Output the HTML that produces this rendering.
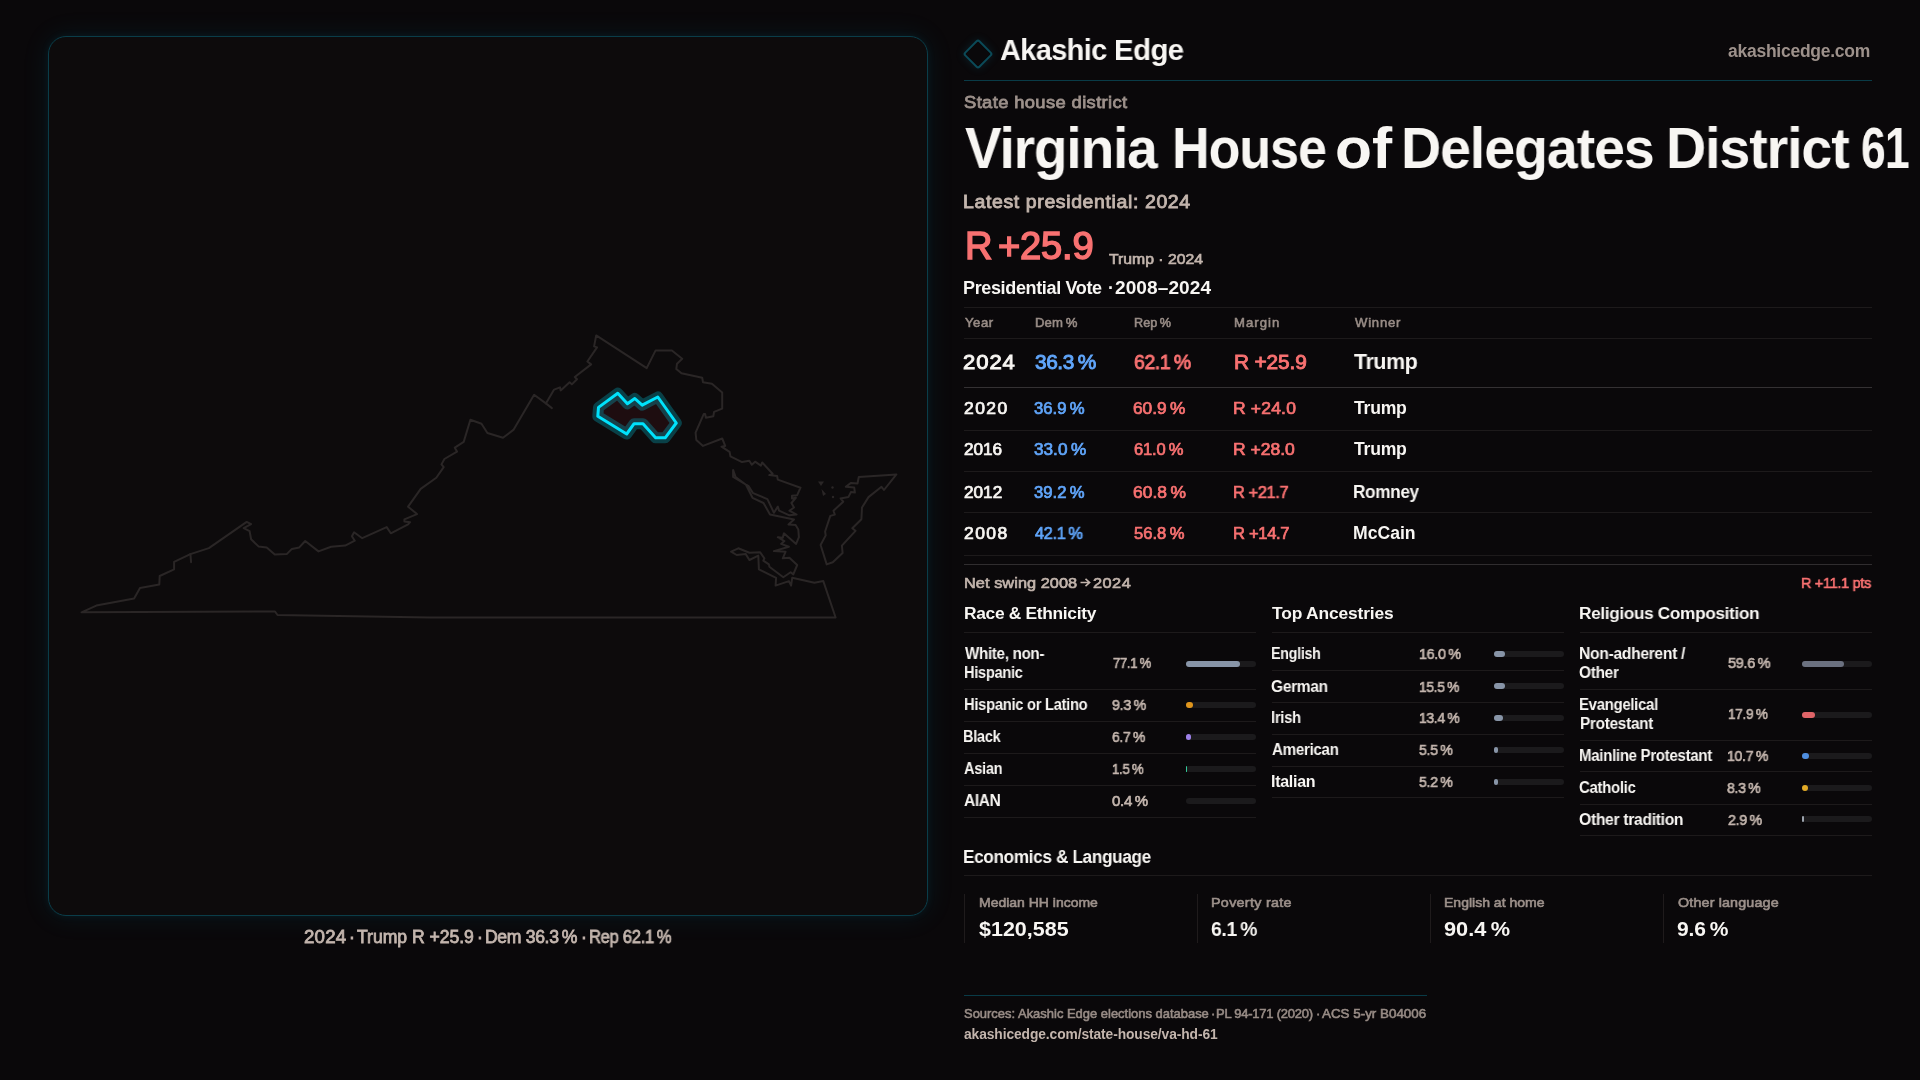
<!DOCTYPE html>
<html><head><meta charset="utf-8"><title>Virginia House of Delegates District 61</title>
<style>
*{margin:0;padding:0;box-sizing:border-box}
html,body{width:1920px;height:1080px;overflow:hidden;background:#0a080a}
body{position:relative;font-family:"Liberation Sans",sans-serif}
.panel{position:absolute;left:48px;top:36px;width:880px;height:880px;border:1px solid #0a3d49;border-radius:18px;background:#0d0b0c;box-shadow:0 0 28px rgba(0,170,200,0.10),0 0 8px rgba(0,170,200,0.08)}
.map{position:absolute;left:0;top:0}
.t{position:absolute;white-space:nowrap;line-height:1;transform-origin:0 0;will-change:transform}
.bm{display:inline-block;width:0;height:0}
.hl{position:absolute}
.bar{position:absolute;background:#1b1a1c;border-radius:3px}
.bar i{display:block;height:100%;border-radius:3px}
.logo{position:absolute;left:966.5px;top:43.3px;width:22px;height:22px;border:2px solid #0b4a58;border-radius:3px;transform:rotate(45deg);box-shadow:0 0 10px rgba(20,140,170,0.18)}
</style></head><body>
<div class="panel"></div>
<svg class="map" width="1920" height="1080" viewBox="0 0 1920 1080">
<g fill="none" stroke="#2a2626" stroke-width="2" stroke-linejoin="round" stroke-linecap="round">
<path d="M81.5 612.3 L96.3 605.6 L134.1 598.5 L140.0 587.9 L159.3 584.4 L159.7 576.0 L174.1 569.3 L174.1 561.9 L190.4 554.1 L208.9 548.1 L246.7 521.9 L251.1 524.1 L243.7 528.1 L249.6 531.1 L251.1 539.3 L258.5 546.4 L266.7 547.4 L274.8 554.5 L286.7 554.1 L291.9 548.9 L299.3 547.4 L305.2 541.0 L318.5 551.4 L331.1 546.7 L345.2 545.6 L354.8 540.7 L351.9 536.3 L354.1 532.3 L362.2 538.2 L386.7 527.1 L390.8 533.3 L408.1 524.4 L410.1 522.2 L404.4 521.5 L404.4 519.3 L417.0 514.1 L408.1 506.7 L420.7 488.9 L436.3 477.8 L443.7 467.1 L441.5 464.4 L444.4 459.0 L457.0 451.6 L454.8 447.7 L463.7 441.9 L470.4 419.7 L481.5 423.7 L487.4 433.0 L503.0 437.8 L513.7 429.6 L534.1 394.8 L545.9 403.4 L554.1 389.6 L560.0 387.4 L560.7 390.4 L569.6 382.2 L571.9 384.4 L577.0 379.3 L574.8 377.0 L591.1 364.4 L587.4 361.5 L597.0 347.4 L594.1 346.4 L596.2 335.4 L646.7 368.1 L655.6 350.4 L671.9 350.4 L682.2 358.8 L677.0 363.7 L676.3 368.9 L681.5 373.3 L702.2 377.8 L703.0 382.2 L711.9 383.7 L722.2 392.6 L722.2 408.6 L714.1 411.9 L713.3 416.3 L705.9 417.8 L705.2 414.1 L703.7 414.1 L695.6 432.6 L696.3 440.0 L703.0 445.9 L722.2 438.5 L725.2 445.9 L721.5 446.7 L729.6 451.9 L730.4 456.3 L742.1 462.1 L749.3 460.8 L751.8 464.7 L755.1 461.7 L760.9 465.6 L762.2 462.5 L772.6 473.8 L769.3 475.1 L777.1 476.0 L777.8 479.6 L800.5 487.7 L797.2 495.2 L792.0 495.8 L792.0 498.4 L795.9 497.8 L791.4 503.0 L794.0 507.5 L789.4 510.7 L796.6 514.6 L789.4 515.3 L779.1 510.7 L777.8 506.6 L773.9 512.7 L767.4 499.1 L753.1 493.2 L748.6 486.1 L733.1 477.0 L733.1 469.9 L735.6 477.0 L746.0 484.8 L752.5 497.8 L763.5 503.0 L770.0 514.4 L794.0 519.5 L788.5 524.5 L795.6 525.0 L798.3 529.4 L798.9 537.2 L796.1 543.9 L783.9 533.3 L782.8 537.8 L777.8 537.2 L784.4 541.1 L781.1 543.9 L788.9 546.7 L773.9 551.1 L785.6 551.7 L782.8 558.3 L789.4 557.8 L797.2 565.0 L793.3 574.4 L790.6 572.2 L783.3 577.2 L769.4 566.7 L768.9 564.4 L763.3 560.6 L764.4 558.3 L760.0 552.2 L749.4 552.8 L738.3 548.3 L731.1 551.7 L736.7 555.0 L745.6 553.9 L749.4 560.0 L758.3 555.6 L758.9 569.4 L776.1 577.8 L775.6 585.6 L788.9 581.1 L791.1 585.6 L792.2 577.8 L814.4 582.8 L823.3 581.1 L835.6 617.5 L430.0 617.5 L277.5 615.0 L275.0 611.5 Z"/><path d="M896.4 474.4 L884.0 490.0 L881.5 486.8 L868.5 497.1 L862.0 507.5 L861.4 519.2 L852.3 528.2 L855.5 530.8 L841.9 545.7 L842.6 552.9 L832.8 562.2 L826.7 564.4 L820.6 545.0 L825.7 535.4 L825.1 531.5 L830.3 515.9 L834.8 514.6 L833.5 510.7 L843.2 501.7 L840.6 498.4 L848.4 497.1 L851.0 491.9 L854.9 492.6 L854.2 487.4 L845.8 486.8 L851.0 482.9 L857.5 483.5 L858.8 477.0 Z"/><path d="M545.9 403.4 L551.9 408.1"/><path d="M190.4 554.1 L191.1 562.2"/>
</g>
<g fill="#2a2626"><path d="M818.0 481.5 L824.0 481.5 L821.0 486.0 Z"/><path d="M821.5 489.0 L826.0 494.0 L823.0 496.0 Z"/><circle cx="832.5" cy="487.5" r="1.2"/><circle cx="833" cy="497" r="1.2"/></g>
<path d="M617.8 393.3 L627.4 403.7 L634.8 398.5 L642.2 405.2 L657.8 397.0 L676.3 423.0 L665.2 437.8 L655.6 437.8 L643.0 423.7 L634.1 423.7 L626.7 434.0 L597.8 416.3 L598.5 407.4 Z" fill="#1e0d10" stroke="rgba(0,215,245,0.26)" stroke-width="11" stroke-linejoin="round"/>
<path d="M617.8 393.3 L627.4 403.7 L634.8 398.5 L642.2 405.2 L657.8 397.0 L676.3 423.0 L665.2 437.8 L655.6 437.8 L643.0 423.7 L634.1 423.7 L626.7 434.0 L597.8 416.3 L598.5 407.4 Z" fill="none" stroke="#00e2fc" stroke-width="3" stroke-linejoin="round" />
</svg>
<div class="logo"></div>
<svg style="position:absolute;left:1080px;top:578px" width="11" height="10" viewBox="0 0 11 10"><path d="M0.5 4.5 H9.5 M5.5 0.8 L9.6 4.5 L5.5 8.2" fill="none" stroke="#c3b5ad" stroke-width="1.6"/></svg>
<div class="hl" style="left:964px;top:80px;width:908px;height:1px;background:#093b47"></div>
<div class="hl" style="left:964px;top:307px;width:908px;height:1px;background:#1d1a1b"></div>
<div class="hl" style="left:964px;top:338px;width:908px;height:1px;background:#1d1a1b"></div>
<div class="hl" style="left:964px;top:430px;width:908px;height:1px;background:#1d1a1b"></div>
<div class="hl" style="left:964px;top:471px;width:908px;height:1px;background:#1d1a1b"></div>
<div class="hl" style="left:964px;top:512px;width:908px;height:1px;background:#1d1a1b"></div>
<div class="hl" style="left:964px;top:555px;width:908px;height:1px;background:#1d1a1b"></div>
<div class="hl" style="left:964px;top:387px;width:908px;height:1px;background:#343133"></div>
<div class="hl" style="left:964px;top:564px;width:908px;height:1px;background:#302d2f"></div>
<div class="hl" style="left:964px;top:632px;width:292px;height:1px;background:#1d1a1b"></div>
<div class="hl" style="left:1272px;top:632px;width:292px;height:1px;background:#1d1a1b"></div>
<div class="hl" style="left:1580px;top:632px;width:292px;height:1px;background:#1d1a1b"></div>
<div class="hl" style="left:964px;top:689px;width:292px;height:1px;background:#1d1a1b"></div>
<div class="hl" style="left:964px;top:721px;width:292px;height:1px;background:#1d1a1b"></div>
<div class="hl" style="left:964px;top:753px;width:292px;height:1px;background:#1d1a1b"></div>
<div class="hl" style="left:964px;top:785px;width:292px;height:1px;background:#1d1a1b"></div>
<div class="hl" style="left:964px;top:817px;width:292px;height:1px;background:#1d1a1b"></div>
<div class="hl" style="left:1272px;top:670px;width:292px;height:1px;background:#1d1a1b"></div>
<div class="hl" style="left:1272px;top:702px;width:292px;height:1px;background:#1d1a1b"></div>
<div class="hl" style="left:1272px;top:734px;width:292px;height:1px;background:#1d1a1b"></div>
<div class="hl" style="left:1272px;top:766px;width:292px;height:1px;background:#1d1a1b"></div>
<div class="hl" style="left:1272px;top:797px;width:292px;height:1px;background:#1d1a1b"></div>
<div class="hl" style="left:1580px;top:689px;width:292px;height:1px;background:#1d1a1b"></div>
<div class="hl" style="left:1580px;top:740px;width:292px;height:1px;background:#1d1a1b"></div>
<div class="hl" style="left:1580px;top:771px;width:292px;height:1px;background:#1d1a1b"></div>
<div class="hl" style="left:1580px;top:804px;width:292px;height:1px;background:#1d1a1b"></div>
<div class="hl" style="left:1580px;top:835px;width:292px;height:1px;background:#1d1a1b"></div>
<div class="hl" style="left:964px;top:875px;width:908px;height:1px;background:#1d1a1b"></div>
<div class="hl" style="left:964px;top:894px;width:1px;height:49px;background:#1f1b1c"></div>
<div class="hl" style="left:1197px;top:894px;width:1px;height:49px;background:#1f1b1c"></div>
<div class="hl" style="left:1430px;top:894px;width:1px;height:49px;background:#1f1b1c"></div>
<div class="hl" style="left:1663px;top:894px;width:1px;height:49px;background:#1f1b1c"></div>
<div class="hl" style="left:964px;top:995px;width:463px;height:1px;background:#093b47"></div>
<div class="bar" style="left:1186.0px;top:661.0px;width:70px;height:6px"><i style="width:53.97px;background:#8895a8"></i></div>
<div class="bar" style="left:1186.0px;top:701.5px;width:70px;height:6px"><i style="width:6.51px;background:#e0951c"></i></div>
<div class="bar" style="left:1186.0px;top:733.5px;width:70px;height:6px"><i style="width:4.69px;background:#9d80e8"></i></div>
<div class="bar" style="left:1186.0px;top:765.5px;width:70px;height:6px"><i style="width:1.05px;background:#34c99a"></i></div>
<div class="bar" style="left:1186.0px;top:797.5px;width:70px;height:6px"><i style="width:0.00px;background:#8895a8"></i></div>
<div class="bar" style="left:1494.0px;top:651.0px;width:70px;height:6px"><i style="width:11.20px;background:#8895a8"></i></div>
<div class="bar" style="left:1494.0px;top:683.0px;width:70px;height:6px"><i style="width:10.85px;background:#8895a8"></i></div>
<div class="bar" style="left:1494.0px;top:715.0px;width:70px;height:6px"><i style="width:9.38px;background:#8895a8"></i></div>
<div class="bar" style="left:1494.0px;top:747.0px;width:70px;height:6px"><i style="width:3.85px;background:#8895a8"></i></div>
<div class="bar" style="left:1494.0px;top:779.0px;width:70px;height:6px"><i style="width:3.64px;background:#8895a8"></i></div>
<div class="bar" style="left:1802.0px;top:661.0px;width:70px;height:6px"><i style="width:41.72px;background:#6b7180"></i></div>
<div class="bar" style="left:1802.0px;top:712.0px;width:70px;height:6px"><i style="width:12.53px;background:#e06468"></i></div>
<div class="bar" style="left:1802.0px;top:753.0px;width:70px;height:6px"><i style="width:7.49px;background:#4e8ee0"></i></div>
<div class="bar" style="left:1802.0px;top:785.0px;width:70px;height:6px"><i style="width:5.81px;background:#e2aa26"></i></div>
<div class="bar" style="left:1802.0px;top:816.0px;width:70px;height:6px"><i style="width:2.03px;background:#9ca3ad"></i></div>
<div class="t" id="brand" style="left:1000.25px;top:35.01px;font-size:30.00px;letter-spacing:-0.600px;color:#f8f6f3;transform:scaleX(0.9622);font-weight:700;">Akashic<span class="bm"></span></div>
<div class="t" id="brand2" style="left:1114.29px;top:35.01px;font-size:30.00px;letter-spacing:-0.600px;color:#f8f6f3;transform:scaleX(0.9795);font-weight:700;">Edge<span class="bm"></span></div>
<div class="t" id="url" style="left:1728.48px;top:42.71px;font-size:17.50px;letter-spacing:-0.257px;color:#9d918b;font-weight:700;">akashicedge.com<span class="bm"></span></div>
<div class="t" id="kicker" style="left:964.18px;top:93.60px;font-size:17.37px;letter-spacing:0.332px;color:#9d918b;transform:scaleX(1.0600);-webkit-text-stroke:0.78px #9d918b;">State house district<span class="bm"></span></div>
<div class="t" id="tw0" style="left:964.59px;top:120.11px;font-size:57.60px;letter-spacing:-1.152px;color:#f8f6f3;transform:scaleX(0.9538);font-weight:700;">Virginia<span class="bm"></span></div>
<div class="t" id="tw1" style="left:1172.25px;top:120.11px;font-size:57.60px;letter-spacing:-1.152px;color:#f8f6f3;transform:scaleX(0.9035);font-weight:700;">House<span class="bm"></span></div>
<div class="t" id="tw2" style="left:1335.48px;top:120.11px;font-size:57.60px;letter-spacing:0.000px;color:#f8f6f3;transform:scaleX(1.0510);font-weight:700;">of<span class="bm"></span></div>
<div class="t" id="tw3" style="left:1401.18px;top:120.11px;font-size:57.60px;letter-spacing:-1.152px;color:#f8f6f3;transform:scaleX(0.9653);font-weight:700;">Delegates<span class="bm"></span></div>
<div class="t" id="tw4" style="left:1665.69px;top:120.11px;font-size:57.60px;letter-spacing:-1.152px;color:#f8f6f3;transform:scaleX(0.9651);font-weight:700;">District<span class="bm"></span></div>
<div class="t" id="tw5" style="left:1860.67px;top:120.11px;font-size:57.60px;letter-spacing:-1.152px;color:#f8f6f3;transform:scaleX(0.7729);font-weight:700;">61<span class="bm"></span></div>
<div class="t" id="latest" style="left:963.24px;top:192.91px;font-size:18.40px;letter-spacing:0.580px;color:#c3b5ad;transform:scaleX(1.0600);-webkit-text-stroke:0.83px #c3b5ad;">Latest presidential: 2024<span class="bm"></span></div>
<div class="t" id="big" style="left:964.52px;top:227.11px;font-size:38.12px;letter-spacing:-0.762px;color:#f87171;transform:scaleX(0.9907);-webkit-text-stroke:1.50px #f87171;">R<span class="bm"></span></div>
<div class="t" id="big2" style="left:997.61px;top:227.11px;font-size:38.12px;letter-spacing:-0.191px;color:#f87171;-webkit-text-stroke:1.50px #f87171;">+25.9<span class="bm"></span></div>
<div class="t" id="bigsub" style="left:1108.72px;top:250.51px;font-size:15.02px;letter-spacing:0.000px;color:#c3b5ad;transform:scaleX(1.0498);-webkit-text-stroke:0.68px #c3b5ad;">Trump &middot; 2024<span class="bm"></span></div>
<div class="t" id="pvh" style="left:963.46px;top:279.40px;font-size:18.00px;letter-spacing:-0.353px;color:#f8f6f3;font-weight:700;">Presidential Vote<span class="bm"></span></div>
<div class="t" id="pvhd" style="left:1107.80px;top:279.40px;font-size:18.00px;letter-spacing:-0.127px;color:#f8f6f3;font-weight:700;">&middot;<span class="bm"></span></div>
<div class="t" id="pvh2" style="left:1114.83px;top:279.40px;font-size:18.00px;letter-spacing:0.070px;color:#f8f6f3;transform:scaleX(1.0600);font-weight:700;">2008&ndash;2024<span class="bm"></span></div>
<div class="t" id="th0" style="left:964.75px;top:316.61px;font-size:12.39px;letter-spacing:0.521px;color:#988c86;transform:scaleX(1.0600);-webkit-text-stroke:0.56px #988c86;">Year<span class="bm"></span></div>
<div class="t" id="th1" style="left:1034.55px;top:316.61px;font-size:12.39px;letter-spacing:0.098px;color:#988c86;transform:scaleX(1.0600);-webkit-text-stroke:0.56px #988c86;">Dem&#8201;%<span class="bm"></span></div>
<div class="t" id="th2" style="left:1134.14px;top:316.61px;font-size:12.39px;letter-spacing:0.000px;color:#988c86;transform:scaleX(1.0212);-webkit-text-stroke:0.56px #988c86;">Rep&#8201;%<span class="bm"></span></div>
<div class="t" id="th3" style="left:1234.10px;top:316.61px;font-size:12.39px;letter-spacing:0.962px;color:#988c86;transform:scaleX(1.0600);-webkit-text-stroke:0.56px #988c86;">Margin<span class="bm"></span></div>
<div class="t" id="th4" style="left:1354.78px;top:316.61px;font-size:12.39px;letter-spacing:0.723px;color:#988c86;transform:scaleX(1.0600);-webkit-text-stroke:0.56px #988c86;">Winner<span class="bm"></span></div>
<div class="t" id="r0c0" style="left:963.49px;top:351.90px;font-size:20.85px;letter-spacing:0.853px;color:#f8f6f3;transform:scaleX(1.0600);-webkit-text-stroke:0.94px #f8f6f3;">2024<span class="bm"></span></div>
<div class="t" id="r0c1" style="left:1034.76px;top:351.90px;font-size:20.85px;letter-spacing:-0.417px;color:#60a5fa;transform:scaleX(0.9996);-webkit-text-stroke:0.94px #60a5fa;">36.3&#8201;%<span class="bm"></span></div>
<div class="t" id="r0c2" style="left:1134.31px;top:351.90px;font-size:20.85px;letter-spacing:-0.417px;color:#f87171;transform:scaleX(0.9319);-webkit-text-stroke:0.94px #f87171;">62.1&#8201;%<span class="bm"></span></div>
<div class="t" id="r0c3" style="left:1233.55px;top:351.90px;font-size:20.85px;letter-spacing:-0.143px;color:#f87171;-webkit-text-stroke:0.94px #f87171;">R +25.9<span class="bm"></span></div>
<div class="t" id="r0c4" style="left:1354.39px;top:350.90px;font-size:22.20px;letter-spacing:-0.444px;color:#f8f6f3;transform:scaleX(0.9651);font-weight:700;">Trump<span class="bm"></span></div>
<div class="t" id="r1c0" style="left:964.04px;top:401.40px;font-size:16.53px;letter-spacing:1.333px;color:#f8f6f3;transform:scaleX(1.0600);-webkit-text-stroke:0.74px #f8f6f3;">2020<span class="bm"></span></div>
<div class="t" id="r1c1" style="left:1034.34px;top:401.40px;font-size:16.53px;letter-spacing:0.000px;color:#60a5fa;transform:scaleX(1.0113);-webkit-text-stroke:0.74px #60a5fa;">36.9&#8201;%<span class="bm"></span></div>
<div class="t" id="r1c2" style="left:1133.48px;top:401.40px;font-size:16.53px;letter-spacing:-0.000px;color:#f87171;transform:scaleX(1.0465);-webkit-text-stroke:0.74px #f87171;">60.9&#8201;%<span class="bm"></span></div>
<div class="t" id="r1c3" style="left:1233.48px;top:401.40px;font-size:16.53px;letter-spacing:0.168px;color:#f87171;transform:scaleX(1.0600);-webkit-text-stroke:0.74px #f87171;">R +24.0<span class="bm"></span></div>
<div class="t" id="r1c4" style="left:1354.09px;top:400.40px;font-size:17.60px;letter-spacing:-0.227px;color:#f8f6f3;font-weight:700;">Trump<span class="bm"></span></div>
<div class="t" id="r2c0" style="left:964.05px;top:442.01px;font-size:16.53px;letter-spacing:0.000px;color:#f8f6f3;transform:scaleX(1.0387);-webkit-text-stroke:0.74px #f8f6f3;">2016<span class="bm"></span></div>
<div class="t" id="r2c1" style="left:1034.24px;top:442.01px;font-size:16.53px;letter-spacing:0.000px;color:#60a5fa;transform:scaleX(1.0404);-webkit-text-stroke:0.74px #60a5fa;">33.0&#8201;%<span class="bm"></span></div>
<div class="t" id="r2c2" style="left:1133.69px;top:442.01px;font-size:16.53px;letter-spacing:-0.146px;color:#f87171;-webkit-text-stroke:0.74px #f87171;">61.0&#8201;%<span class="bm"></span></div>
<div class="t" id="r2c3" style="left:1233.48px;top:442.01px;font-size:16.53px;letter-spacing:0.008px;color:#f87171;transform:scaleX(1.0600);-webkit-text-stroke:0.74px #f87171;">R +28.0<span class="bm"></span></div>
<div class="t" id="r2c4" style="left:1354.09px;top:441.01px;font-size:17.60px;letter-spacing:-0.227px;color:#f8f6f3;font-weight:700;">Trump<span class="bm"></span></div>
<div class="t" id="r3c0" style="left:964.05px;top:484.51px;font-size:16.53px;letter-spacing:0.000px;color:#f8f6f3;transform:scaleX(1.0408);-webkit-text-stroke:0.74px #f8f6f3;">2012<span class="bm"></span></div>
<div class="t" id="r3c1" style="left:1034.38px;top:484.51px;font-size:16.53px;letter-spacing:0.000px;color:#60a5fa;transform:scaleX(1.0081);-webkit-text-stroke:0.74px #60a5fa;">39.2&#8201;%<span class="bm"></span></div>
<div class="t" id="r3c2" style="left:1133.46px;top:484.51px;font-size:16.53px;letter-spacing:0.000px;color:#f87171;transform:scaleX(1.0554);-webkit-text-stroke:0.74px #f87171;">60.8&#8201;%<span class="bm"></span></div>
<div class="t" id="r3c3" style="left:1233.49px;top:484.51px;font-size:16.53px;letter-spacing:-0.331px;color:#f87171;transform:scaleX(0.9850);-webkit-text-stroke:0.74px #f87171;">R +21.7<span class="bm"></span></div>
<div class="t" id="r3c4" style="left:1353.14px;top:483.51px;font-size:17.60px;letter-spacing:-0.352px;color:#f8f6f3;transform:scaleX(0.9779);font-weight:700;">Romney<span class="bm"></span></div>
<div class="t" id="r4c0" style="left:964.04px;top:525.71px;font-size:16.53px;letter-spacing:1.352px;color:#f8f6f3;transform:scaleX(1.0600);-webkit-text-stroke:0.74px #f8f6f3;">2008<span class="bm"></span></div>
<div class="t" id="r4c1" style="left:1034.68px;top:525.71px;font-size:16.53px;letter-spacing:-0.331px;color:#60a5fa;transform:scaleX(0.9886);-webkit-text-stroke:0.74px #60a5fa;">42.1&#8201;%<span class="bm"></span></div>
<div class="t" id="r4c2" style="left:1134.23px;top:525.71px;font-size:16.53px;letter-spacing:0.000px;color:#f87171;transform:scaleX(1.0051);-webkit-text-stroke:0.74px #f87171;">56.8&#8201;%<span class="bm"></span></div>
<div class="t" id="r4c3" style="left:1233.49px;top:525.71px;font-size:16.53px;letter-spacing:-0.304px;color:#f87171;-webkit-text-stroke:0.74px #f87171;">R +14.7<span class="bm"></span></div>
<div class="t" id="r4c4" style="left:1353.14px;top:524.71px;font-size:17.60px;letter-spacing:-0.000px;color:#f8f6f3;transform:scaleX(1.0002);font-weight:700;">McCain<span class="bm"></span></div>
<div class="t" id="swing" style="left:963.57px;top:574.76px;font-size:15.40px;letter-spacing:0.053px;color:#c3b5ad;transform:scaleX(1.0600);-webkit-text-stroke:0.69px #c3b5ad;">Net swing 2008<span class="bm"></span></div>
<div class="t" id="swing2" style="left:1093.36px;top:574.76px;font-size:15.40px;letter-spacing:0.457px;color:#c3b5ad;transform:scaleX(1.0600);-webkit-text-stroke:0.69px #c3b5ad;">2024<span class="bm"></span></div>
<div class="t" id="swingv" style="left:1800.60px;top:574.71px;font-size:15.40px;letter-spacing:-0.308px;color:#f87171;transform:scaleX(0.9375);-webkit-text-stroke:0.69px #f87171;">R +11.1 pts<span class="bm"></span></div>
<div class="t" id="h_race" style="left:963.64px;top:605.41px;font-size:17.40px;letter-spacing:-0.326px;color:#f8f6f3;font-weight:700;">Race &amp; Ethnicity<span class="bm"></span></div>
<div class="t" id="h_anc" style="left:1272.28px;top:605.41px;font-size:17.40px;letter-spacing:-0.160px;color:#f8f6f3;font-weight:700;">Top Ancestries<span class="bm"></span></div>
<div class="t" id="h_rel" style="left:1579.30px;top:605.41px;font-size:17.40px;letter-spacing:-0.348px;color:#f8f6f3;transform:scaleX(0.9902);font-weight:700;">Religious Composition<span class="bm"></span></div>
<div class="t" id="rl0" style="left:964.55px;top:646.11px;font-size:16.00px;letter-spacing:-0.320px;color:#f8f6f3;transform:scaleX(0.9474);font-weight:700;">White, non-<span class="bm"></span></div>
<div class="t" id="rl1" style="left:963.58px;top:665.01px;font-size:16.00px;letter-spacing:-0.320px;color:#f8f6f3;transform:scaleX(0.9130);font-weight:700;">Hispanic<span class="bm"></span></div>
<div class="t" id="rl2" style="left:963.58px;top:696.90px;font-size:16.00px;letter-spacing:-0.320px;color:#f8f6f3;transform:scaleX(0.9223);font-weight:700;">Hispanic or Latino<span class="bm"></span></div>
<div class="t" id="rl3" style="left:963.23px;top:728.90px;font-size:16.00px;letter-spacing:-0.320px;color:#f8f6f3;transform:scaleX(0.9100);font-weight:700;">Black<span class="bm"></span></div>
<div class="t" id="rl4" style="left:963.72px;top:761.01px;font-size:16.00px;letter-spacing:-0.320px;color:#f8f6f3;transform:scaleX(0.9127);font-weight:700;">Asian<span class="bm"></span></div>
<div class="t" id="rl5" style="left:963.72px;top:793.11px;font-size:16.00px;letter-spacing:-0.320px;color:#f8f6f3;transform:scaleX(0.9664);font-weight:700;">AIAN<span class="bm"></span></div>
<div class="t" id="rv0" style="left:1112.52px;top:655.01px;font-size:15.02px;letter-spacing:-0.300px;color:#c3b5ad;transform:scaleX(0.8654);-webkit-text-stroke:0.68px #c3b5ad;">77.1&#8201;%<span class="bm"></span></div>
<div class="t" id="rv1" style="left:1112.28px;top:696.90px;font-size:15.02px;letter-spacing:-0.300px;color:#c3b5ad;transform:scaleX(0.9472);-webkit-text-stroke:0.68px #c3b5ad;">9.3&#8201;%<span class="bm"></span></div>
<div class="t" id="rv2" style="left:1111.65px;top:728.90px;font-size:15.02px;letter-spacing:-0.300px;color:#c3b5ad;transform:scaleX(0.9215);-webkit-text-stroke:0.68px #c3b5ad;">6.7&#8201;%<span class="bm"></span></div>
<div class="t" id="rv3" style="left:1111.73px;top:761.01px;font-size:15.02px;letter-spacing:-0.300px;color:#c3b5ad;transform:scaleX(0.8743);-webkit-text-stroke:0.68px #c3b5ad;">1.5&#8201;%<span class="bm"></span></div>
<div class="t" id="rv4" style="left:1112.19px;top:793.11px;font-size:15.02px;letter-spacing:-0.270px;color:#c3b5ad;-webkit-text-stroke:0.68px #c3b5ad;">0.4&#8201;%<span class="bm"></span></div>
<div class="t" id="al0" style="left:1271.23px;top:646.31px;font-size:16.00px;letter-spacing:-0.320px;color:#f8f6f3;transform:scaleX(0.8930);font-weight:700;">English<span class="bm"></span></div>
<div class="t" id="al1" style="left:1271.43px;top:678.51px;font-size:16.00px;letter-spacing:-0.320px;color:#f8f6f3;transform:scaleX(0.9706);font-weight:700;">German<span class="bm"></span></div>
<div class="t" id="al2" style="left:1271.41px;top:710.40px;font-size:16.00px;letter-spacing:-0.320px;color:#f8f6f3;transform:scaleX(0.9248);font-weight:700;">Irish<span class="bm"></span></div>
<div class="t" id="al3" style="left:1271.72px;top:742.31px;font-size:16.00px;letter-spacing:-0.320px;color:#f8f6f3;transform:scaleX(0.9457);font-weight:700;">American<span class="bm"></span></div>
<div class="t" id="al4" style="left:1271.37px;top:774.40px;font-size:16.00px;letter-spacing:-0.271px;color:#f8f6f3;font-weight:700;">Italian<span class="bm"></span></div>
<div class="t" id="av0" style="left:1419.08px;top:646.31px;font-size:15.02px;letter-spacing:-0.300px;color:#c3b5ad;transform:scaleX(0.9510);-webkit-text-stroke:0.68px #c3b5ad;">16.0&#8201;%<span class="bm"></span></div>
<div class="t" id="av1" style="left:1419.22px;top:678.51px;font-size:15.02px;letter-spacing:-0.300px;color:#c3b5ad;transform:scaleX(0.9145);-webkit-text-stroke:0.68px #c3b5ad;">15.5&#8201;%<span class="bm"></span></div>
<div class="t" id="av2" style="left:1419.12px;top:710.40px;font-size:15.02px;letter-spacing:-0.300px;color:#c3b5ad;transform:scaleX(0.9210);-webkit-text-stroke:0.68px #c3b5ad;">13.4&#8201;%<span class="bm"></span></div>
<div class="t" id="av3" style="left:1419.39px;top:742.31px;font-size:15.02px;letter-spacing:-0.300px;color:#c3b5ad;transform:scaleX(0.9340);-webkit-text-stroke:0.68px #c3b5ad;">5.5&#8201;%<span class="bm"></span></div>
<div class="t" id="av4" style="left:1419.39px;top:774.40px;font-size:15.02px;letter-spacing:-0.300px;color:#c3b5ad;transform:scaleX(0.9340);-webkit-text-stroke:0.68px #c3b5ad;">5.2&#8201;%<span class="bm"></span></div>
<div class="t" id="gl0" style="left:1579.40px;top:646.31px;font-size:16.00px;letter-spacing:-0.320px;color:#f8f6f3;transform:scaleX(0.9780);font-weight:700;">Non-adherent /<span class="bm"></span></div>
<div class="t" id="gl1" style="left:1579.43px;top:665.01px;font-size:16.00px;letter-spacing:-0.320px;color:#f8f6f3;transform:scaleX(0.9638);font-weight:700;">Other<span class="bm"></span></div>
<div class="t" id="gl2" style="left:1579.23px;top:696.90px;font-size:16.00px;letter-spacing:-0.320px;color:#f8f6f3;transform:scaleX(0.9335);font-weight:700;">Evangelical<span class="bm"></span></div>
<div class="t" id="gl3" style="left:1579.63px;top:716.01px;font-size:16.00px;letter-spacing:-0.320px;color:#f8f6f3;transform:scaleX(0.9610);font-weight:700;">Protestant<span class="bm"></span></div>
<div class="t" id="gl4" style="left:1579.23px;top:748.01px;font-size:16.00px;letter-spacing:-0.320px;color:#f8f6f3;transform:scaleX(0.9395);font-weight:700;">Mainline Protestant<span class="bm"></span></div>
<div class="t" id="gl5" style="left:1579.43px;top:780.40px;font-size:16.00px;letter-spacing:-0.320px;color:#f8f6f3;transform:scaleX(0.9341);font-weight:700;">Catholic<span class="bm"></span></div>
<div class="t" id="gl6" style="left:1579.43px;top:811.51px;font-size:16.00px;letter-spacing:-0.320px;color:#f8f6f3;transform:scaleX(0.9802);font-weight:700;">Other tradition<span class="bm"></span></div>
<div class="t" id="gv0" style="left:1727.79px;top:654.61px;font-size:15.02px;letter-spacing:-0.300px;color:#c3b5ad;transform:scaleX(0.9632);-webkit-text-stroke:0.68px #c3b5ad;">59.6&#8201;%<span class="bm"></span></div>
<div class="t" id="gv1" style="left:1727.60px;top:705.71px;font-size:15.02px;letter-spacing:-0.300px;color:#c3b5ad;transform:scaleX(0.9026);-webkit-text-stroke:0.68px #c3b5ad;">17.9&#8201;%<span class="bm"></span></div>
<div class="t" id="gv2" style="left:1727.47px;top:748.01px;font-size:15.02px;letter-spacing:-0.300px;color:#c3b5ad;transform:scaleX(0.9377);-webkit-text-stroke:0.68px #c3b5ad;">10.7&#8201;%<span class="bm"></span></div>
<div class="t" id="gv3" style="left:1727.49px;top:780.40px;font-size:15.02px;letter-spacing:-0.300px;color:#c3b5ad;transform:scaleX(0.9305);-webkit-text-stroke:0.68px #c3b5ad;">8.3&#8201;%<span class="bm"></span></div>
<div class="t" id="gv4" style="left:1727.62px;top:811.51px;font-size:15.02px;letter-spacing:-0.300px;color:#c3b5ad;transform:scaleX(0.9449);-webkit-text-stroke:0.68px #c3b5ad;">2.9&#8201;%<span class="bm"></span></div>
<div class="t" id="h_econ" style="left:963.40px;top:847.60px;font-size:18.00px;letter-spacing:-0.360px;color:#f8f6f3;transform:scaleX(0.9542);font-weight:700;">Economics &amp; Language<span class="bm"></span></div>
<div class="t" id="el0" style="left:978.55px;top:896.10px;font-size:13.52px;letter-spacing:0.000px;color:#9d918b;transform:scaleX(1.0343);-webkit-text-stroke:0.61px #9d918b;">Median HH income<span class="bm"></span></div>
<div class="t" id="ev0" style="left:979.46px;top:917.50px;font-size:21.00px;letter-spacing:0.000px;color:#f8f6f3;transform:scaleX(1.0233);font-weight:700;">$120,585<span class="bm"></span></div>
<div class="t" id="el1" style="left:1211.48px;top:896.10px;font-size:13.52px;letter-spacing:0.287px;color:#9d918b;transform:scaleX(1.0600);-webkit-text-stroke:0.61px #9d918b;">Poverty rate<span class="bm"></span></div>
<div class="t" id="ev1" style="left:1211.22px;top:917.50px;font-size:21.00px;letter-spacing:-0.420px;color:#f8f6f3;transform:scaleX(0.9214);font-weight:700;">6.1&#8201;%<span class="bm"></span></div>
<div class="t" id="el2" style="left:1444.37px;top:896.10px;font-size:13.52px;letter-spacing:0.000px;color:#9d918b;transform:scaleX(1.0370);-webkit-text-stroke:0.61px #9d918b;">English at home<span class="bm"></span></div>
<div class="t" id="ev2" style="left:1444.43px;top:917.50px;font-size:21.00px;letter-spacing:0.000px;color:#f8f6f3;transform:scaleX(1.0354);font-weight:700;">90.4&#8201;%<span class="bm"></span></div>
<div class="t" id="el3" style="left:1677.77px;top:896.10px;font-size:13.52px;letter-spacing:0.137px;color:#9d918b;transform:scaleX(1.0600);-webkit-text-stroke:0.61px #9d918b;">Other language<span class="bm"></span></div>
<div class="t" id="ev3" style="left:1677.21px;top:917.50px;font-size:21.00px;letter-spacing:-0.175px;color:#f8f6f3;font-weight:700;">9.6&#8201;%<span class="bm"></span></div>
<div class="t" id="src" style="left:964.34px;top:1008.26px;font-size:12.96px;letter-spacing:-0.000px;color:#988c86;-webkit-text-stroke:0.58px #988c86;">Sources: Akashic Edge elections database<span class="bm"></span></div>
<div class="t" id="srcd1" style="left:1211.04px;top:1008.26px;font-size:12.96px;letter-spacing:-0.076px;color:#988c86;-webkit-text-stroke:0.58px #988c86;">&middot;<span class="bm"></span></div>
<div class="t" id="src2" style="left:1216.32px;top:1008.26px;font-size:12.96px;letter-spacing:-0.221px;color:#988c86;-webkit-text-stroke:0.58px #988c86;">PL 94-171 (2020)<span class="bm"></span></div>
<div class="t" id="srcd2" style="left:1315.70px;top:1008.26px;font-size:12.96px;letter-spacing:-0.076px;color:#988c86;-webkit-text-stroke:0.58px #988c86;">&middot;<span class="bm"></span></div>
<div class="t" id="src3" style="left:1322.07px;top:1008.26px;font-size:12.96px;letter-spacing:-0.000px;color:#988c86;transform:scaleX(1.0337);-webkit-text-stroke:0.58px #988c86;">ACS 5-yr B04006<span class="bm"></span></div>
<div class="t" id="srcurl" style="left:963.76px;top:1027.76px;font-size:13.80px;letter-spacing:-0.090px;color:#c3b5ad;font-weight:700;">akashicedge.com/state-house/va-hd-61<span class="bm"></span></div>
<div class="t" id="cap0" style="left:304.28px;top:928.81px;font-size:17.61px;letter-spacing:0.229px;color:#c3b5ad;transform:scaleX(1.0600);-webkit-text-stroke:0.79px #c3b5ad;">2024<span class="bm"></span></div>
<div class="t" id="cap1" style="left:348.65px;top:928.81px;font-size:17.61px;letter-spacing:-0.352px;color:#c3b5ad;transform:scaleX(0.9831);-webkit-text-stroke:0.79px #c3b5ad;">&middot;<span class="bm"></span></div>
<div class="t" id="cap2" style="left:357.38px;top:928.81px;font-size:17.61px;letter-spacing:-0.033px;color:#c3b5ad;-webkit-text-stroke:0.79px #c3b5ad;">Trump R +25.9<span class="bm"></span></div>
<div class="t" id="cap3" style="left:477.10px;top:928.81px;font-size:17.61px;letter-spacing:-0.352px;color:#c3b5ad;transform:scaleX(0.9831);-webkit-text-stroke:0.79px #c3b5ad;">&middot;<span class="bm"></span></div>
<div class="t" id="cap4" style="left:485.48px;top:928.81px;font-size:17.61px;letter-spacing:-0.342px;color:#c3b5ad;-webkit-text-stroke:0.79px #c3b5ad;">Dem 36.3&#8201;%<span class="bm"></span></div>
<div class="t" id="cap5" style="left:581.06px;top:928.81px;font-size:17.61px;letter-spacing:-0.352px;color:#c3b5ad;transform:scaleX(0.9831);-webkit-text-stroke:0.79px #c3b5ad;">&middot;<span class="bm"></span></div>
<div class="t" id="cap6" style="left:588.61px;top:928.81px;font-size:17.61px;letter-spacing:-0.352px;color:#c3b5ad;transform:scaleX(0.9445);-webkit-text-stroke:0.79px #c3b5ad;">Rep 62.1&#8201;%<span class="bm"></span></div>
</body></html>
